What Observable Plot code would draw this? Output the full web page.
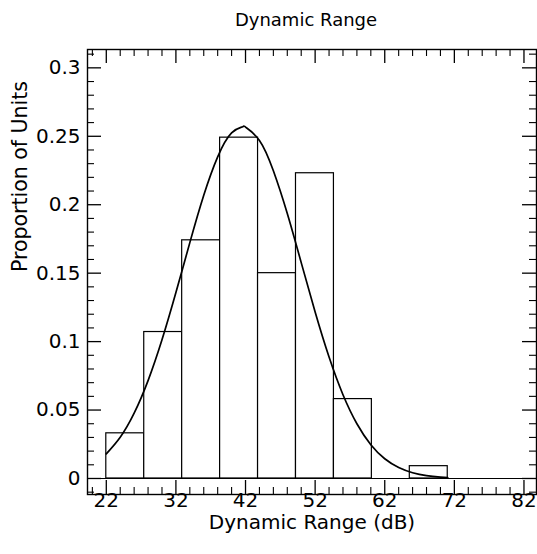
<!DOCTYPE html>
<html>
<head>
<meta charset="utf-8">
<script src="https://cdn.jsdelivr.net/npm/d3@7"></script>
<script src="https://cdn.jsdelivr.net/npm/@observablehq/plot@0.6"></script>
<style>
  html, body { margin: 0; padding: 0; background: #fff; }
  #chart svg { display: block; }
</style>
</head>
<body>
<div id="chart"></div>
<script>
// ---- data ----
const binEdges = [22, 27.45, 32.9, 38.35, 43.8, 49.25, 54.7, 60.15, 65.6, 71.05];
const proportions = [0.033, 0.107, 0.174, 0.249, 0.150, 0.223, 0.058, 0.0, 0.009];

const curveX = [22, 24, 26, 28, 30, 32, 34, 36, 38, 40, 41.6, 42, 44, 46, 48, 50, 52, 54, 56, 58, 60, 62, 64, 66, 68, 70, 71.05];
const curveY = [0.0180, 0.0301, 0.0477, 0.0715, 0.1013, 0.1358, 0.1723, 0.2069, 0.2350, 0.2525, 0.2570, 0.2567, 0.2470, 0.2248, 0.1936, 0.1577, 0.1216, 0.0887, 0.0612, 0.0400, 0.0247, 0.0144, 0.0080, 0.0042, 0.0021, 0.0010, 0.0006];

const xMajorTicks = [22, 32, 42, 52, 62, 72, 82];
const xMinorTicks = [20, 24, 26, 28, 30, 34, 36, 38, 40, 44, 46, 48, 50, 54, 56, 58, 60, 64, 66, 68, 70, 74, 76, 78, 80];
const yMajorTicks = [0, 0.05, 0.1, 0.15, 0.2, 0.25, 0.3];
const yTickLabels = ["0", "0.05", "0.1", "0.15", "0.2", "0.25", "0.3"];
const yMinorTicks = [-0.01, 0.01, 0.02, 0.03, 0.04, 0.06, 0.07, 0.08, 0.09, 0.11, 0.12, 0.13, 0.14, 0.16, 0.17, 0.18, 0.19, 0.21, 0.22, 0.23, 0.24, 0.26, 0.27, 0.28, 0.29, 0.31];

const titleText = "Dynamic Range";
const xLabelText = "Dynamic Range (dB)";
const yLabelText = "Proportion of Units";

// ---- tables built from the arrays ----
const bins = proportions.map((p, i) => ({x1: binEdges[i], x2: binEdges[i + 1], y: p}));
const curve = curveX.map((x, i) => ({x, y: curveY[i]}));
const yLabels = yMajorTicks.map((v, i) => ({v, t: yTickLabels[i]}));

const W = 537, H = 554;
const mL = 87, mR = 1, mT = 49, mB = 60;
const fw = W - mL - mR, fh = H - mT - mB;
const majorLen = 14, minorLen = 7;
const font = "'DejaVu Sans', Verdana, sans-serif";

const chart = Plot.plot({
  width: W,
  height: H,
  marginLeft: mL,
  marginRight: mR,
  marginTop: mT,
  marginBottom: mB,
  style: {fontFamily: font, background: "#fff", color: "#000"},
  x: {domain: [19.3, 83.8], axis: null},
  y: {domain: [-0.0117, 0.3134], axis: null},
  marks: [
    // histogram bars
    Plot.rectY(bins, {x1: "x1", x2: "x2", y: "y", fill: "white", stroke: "black", strokeWidth: 1.2}),
    // baseline
    Plot.ruleY([0], {stroke: "black", strokeWidth: 1.2}),
    // fitted curve
    Plot.line(curve, {x: "x", y: "y", curve: "natural", stroke: "black", strokeWidth: 1.7}),
    // frame
    Plot.frame({stroke: "black", strokeWidth: 1.4}),
    // bottom ticks (inward)
    Plot.tickX(xMajorTicks, {x: d => d, insetTop: fh - majorLen, stroke: "black", strokeWidth: 1.3}),
    Plot.tickX(xMinorTicks, {x: d => d, insetTop: fh - minorLen, stroke: "black", strokeWidth: 1.1}),
    // top ticks (inward)
    Plot.tickX(xMajorTicks, {x: d => d, insetBottom: fh - majorLen, stroke: "black", strokeWidth: 1.3}),
    Plot.tickX(xMinorTicks, {x: d => d, insetBottom: fh - minorLen, stroke: "black", strokeWidth: 1.1}),
    // left ticks
    Plot.tickY(yMajorTicks, {y: d => d, insetRight: fw - majorLen, stroke: "black", strokeWidth: 1.3}),
    Plot.tickY(yMinorTicks, {y: d => d, insetRight: fw - minorLen, stroke: "black", strokeWidth: 1.1}),
    // right ticks
    Plot.tickY(yMajorTicks, {y: d => d, insetLeft: fw - majorLen, stroke: "black", strokeWidth: 1.3}),
    Plot.tickY(yMinorTicks, {y: d => d, insetLeft: fw - minorLen, stroke: "black", strokeWidth: 1.1}),
    // x tick labels
    Plot.text(xMajorTicks, {x: d => d, text: d => String(d), frameAnchor: "bottom", dy: 12, fontSize: 20, fill: "black"}),
    // y tick labels
    Plot.text(yLabels, {y: "v", text: "t", frameAnchor: "left", dx: -7, textAnchor: "end", fontSize: 20, fill: "black"}),
    // axis titles
    Plot.text([xLabelText], {frameAnchor: "bottom", dy: 34, text: d => d, fontSize: 20, fill: "black"}),
    Plot.text([yLabelText], {frameAnchor: "left", dx: -67, rotate: -90, text: d => d, fontSize: 20.5, fill: "black"}),
    // chart title
    Plot.text([titleText], {frameAnchor: "top", dy: -36, dx: -6, text: d => d, fontSize: 18, fill: "black"})
  ]
});
document.getElementById("chart").appendChild(chart);
</script>
</body>
</html>
